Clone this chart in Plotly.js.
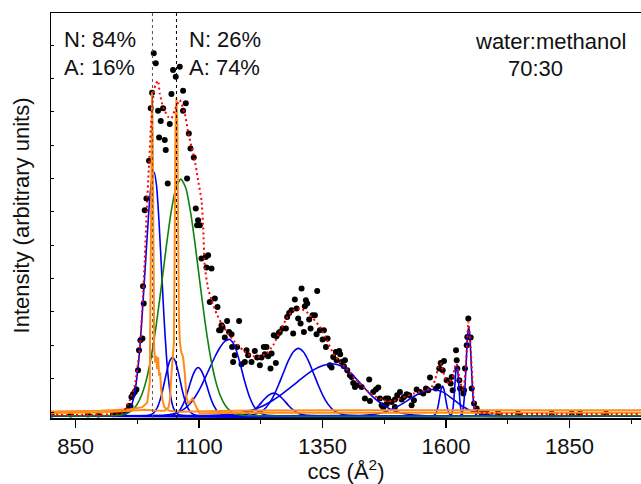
<!DOCTYPE html>
<html><head><meta charset="utf-8">
<script src="https://cdn.plot.ly/plotly-3.0.1.min.js"></script>
<style>html,body{margin:0;padding:0;background:#fff}#chart{width:641px;height:484px}</style>
</head><body><div id="chart"></div>
<script>
// measured data points (ccs, intensity)
const dotsX=[801,840,875,896,925.6,935.8,945.9,954.8,958.0,960.9,962.9,966.1,969.6,973.0,976.3,978.3,981.1,985.2,986.4,987.8,989.9,993.3,998.6,1002.0,1004.7,1008.1,1012.2,1016.8,1018.9,1022.3,1027.0,1030.4,1032.4,1036.4,1040.5,1043.9,1047.2,1052.7,1060.8,1067.5,1067.5,1073.0,1075.6,1079.1,1082.5,1089.2,1093.2,1097.9,1095.9,1101.4,1104.8,1113.5,1118.2,1114.9,1125.1,1121.6,1131.8,1137.2,1140.5,1145.3,1147.4,1156.7,1143.3,1152.0,1160.7,1165.6,1181.0,1166.8,1177.0,1172.3,1168.9,1185.9,1192.6,1196.0,1199.3,1206.1,1212.8,1217.5,1223.0,1226.4,1231.1,1236.5,1233.1,1239.8,1246.7,1244.6,1255.4,1251.3,1256.8,1263.5,1269.0,1275.7,1261.5,1290.5,1278.3,1282.4,1287.2,1293.9,1297.4,1300.6,1305.5,1307.5,1316.2,1318.9,1314.2,1312.2,1322.9,1325.7,1329.8,1334.4,1339.1,1337.9,1344.6,1352.7,1350.0,1356.8,1360.2,1376.9,1383.6,1385.7,1371.6,1378.4,1364.9,1368.3,1388.6,1395.3,1393.2,1400.0,1405.4,1408.9,1412.1,1415.6,1429.1,1419.0,1444.5,1435.8,1446.0,1452.6,1462.8,1458.1,1466.2,1469.7,1472.9,1479.8,1478.4,1483.0,1489.9,1496.6,1501.3,1506.8,1496.6,1510.2,1514.9,1520.3,1525.6,1530.4,1535.1,1540.6,1547.3,1554.0,1559.5,1564.1,1567.6,1579.7,1584.4,1586.4,1589.3,1596.0,1593.3,1601.4,1609.5,1611.6,1613.6,1620.3,1621.7,1622.9,1627.0,1628.4,1635.1,1636.5,1638.5,1642.0,1643.2,1645.2,1650.1,1652.1,1656.8,1662.2,1672.4,1682.5,1705.4,1746.0,1814.3,1854.8,1871.6,1924.3];
const dotsY=[0.36,0.36,0.36,0.36,0.45,0.66,1.05,1.65,2.94,2.85,5.64,6.45,7.14,7.86,13.65,19.65,22.65,23.16,38.85,33.66,61.65,65.16,76.44,92.16,96.84,108.66,105.66,91.44,83.46,88.35,92.16,82.65,79.65,69.66,87.45,96.45,103.65,101.64,104.64,97.44,91.44,93.66,71.16,84.66,80.16,77.46,62.16,58.65,57.15,57.15,47.16,47.64,48.15,44.46,44.16,34.14,35.16,32.64,25.65,27.15,26.64,28.44,25.65,23.46,25.14,24.45,28.44,20.64,20.64,18.15,16.14,15.45,16.14,19.65,18.15,16.14,19.44,17.46,15.15,17.46,20.64,20.64,18.45,17.85,18.66,14.16,15.84,24.15,23.85,25.14,26.16,26.16,24.84,24.66,29.64,30.84,31.65,34.86,32.16,29.16,27.66,38.16,34.65,33.66,32.85,25.14,28.86,26.16,30.15,30.15,37.44,24.45,25.65,25.65,22.86,20.64,23.16,19.14,19.44,18.45,17.64,16.65,15.15,14.46,16.14,16.65,14.85,13.65,12.15,11.64,9.84,8.64,8.64,9.15,10.86,5.16,4.44,7.14,8.46,7.86,5.16,3.15,2.46,3.45,5.16,5.16,4.14,4.86,6.15,7.14,2.64,4.86,5.64,6.45,6.15,3.15,4.65,7.86,7.14,6.66,8.16,7.65,11.46,8.16,8.85,14.16,15.84,16.44,13.65,10.65,9.66,11.64,7.65,19.65,16.65,14.16,10.65,8.16,6.66,7.65,14.16,21.15,23.64,29.16,23.46,8.16,3.66,2.16,0.84,0.84,0.84,0.66,0.66,0.66,0.66,0.66];

// fitted sum (red dotted)
const sumX=[800,900,945.3,959.5,969.6,979.7,985.8,989.9,993.9,998.0,1002.0,1006.1,1011.2,1016.8,1020.3,1026.9,1037.0,1043.9,1050.6,1060.8,1070.9,1077.6,1084.5,1091.2,1097.9,1104.8,1108.1,1111.5,1118.2,1125.1,1135.2,1145.4,1158.7,1172.3,1189.1,1202.7,1219.5,1236.5,1249.9,1263.5,1277.1,1290.5,1304.1,1317.6,1331.0,1344.6,1358.2,1371.6,1385.2,1398.7,1412.1,1425.7,1439.3,1452.6,1466.2,1479.8,1493.2,1506.8,1520.3,1533.7,1547.3,1560.9,1571.0,1577.7,1584.4,1589.3,1594.6,1600.0,1606.7,1613.6,1618.2,1621.7,1624.9,1629.8,1635.1,1639.9,1643.2,1645.2,1648.6,1652.1,1655.3,1658.8,1665.5,1709,1800,1995];
const sumY=[0.3,0.3,1.05,4.65,9.15,19.65,34.65,46.65,61.65,73.65,85.65,94.65,99.15,100.44,96.66,92.64,89.64,89.16,91.65,94.65,90.66,85.14,80.64,76.65,70.65,64.65,56.64,44.64,38.16,34.65,30.66,27.66,24.66,22.14,19.65,18.15,17.64,18.66,21.15,25.14,29.16,31.65,32.16,31.14,29.16,26.64,23.0,18.66,16.14,14.16,11.64,9.66,7.65,6.15,5.16,4.44,4.44,5.16,5.85,6.66,7.14,7.65,8.64,10.65,14.46,15.66,13.14,10.65,9.66,11.64,14.64,15.66,13.14,9.66,7.65,14.64,22.65,28.14,23.64,14.64,6.66,2.16,1.14,0.6,0.5,0.5];

// fitted gaussian components (blue)
const b1X=[800,940,948.7,958.7,968.7,978.7,988.7,998.7,1003.7,1008.7,1013.7,1018.7,1023.7,1028.7,1033.7,1038.7,1043.7,1048.7,1058.7,1080,1995];
const b1Y=[0,0.05,0.28,1.5,6.2,18.2,39.4,62.6,70.2,73.1,69.1,58.4,44.3,30.0,18.2,9.9,4.8,2.1,0.3,0,0];
const b2X=[800,996,1006,1016,1021,1026,1031,1036,1041,1046,1051,1056,1061,1066,1071,1076,1086,1096,1995];
const b2Y=[0,0.1,0.63,2.7,4.8,7.6,11.0,14.2,16.6,17.5,16.6,14.2,11.0,7.6,4.8,2.7,0.63,0.1,0];
const b3X=[800,1038,1048,1058,1068,1073,1078,1083,1088,1093,1098,1103,1108,1113,1118,1123,1128,1138,1148,1158,1995];
const b3Y=[0,0.06,0.3,1.2,3.6,5.5,7.8,10.3,12.4,13.9,14.5,13.9,12.4,10.3,7.8,5.5,3.6,1.2,0.3,0.06,0];
const b4X=[800,1012,1032,1047,1062,1072,1082,1092,1102,1112,1122,1132,1142,1152,1162,1172,1182,1192,1202,1212,1222,1232,1247,1995];
const b4Y=[0,0.04,0.19,0.53,1.35,2.3,3.7,5.7,8.2,11.3,14.5,17.7,20.4,22.3,22.9,21.0,16.2,10.5,5.7,2.6,1.0,0.33,0.04,0];
const b5X=[800,1176,1191,1201,1211,1221,1231,1241,1251,1261,1271,1281,1291,1301,1311,1326,1995];
const b5Y=[0,0.05,0.3,0.78,1.7,3.1,4.8,6.2,6.8,6.2,4.8,3.1,1.7,0.78,0.3,0.05,0];
const b6X=[800,1191,1206,1221,1231,1241,1251,1261,1271,1281,1291,1301,1311,1321,1331,1341,1351,1361,1371,1381,1396,1411,1995];
const b6Y=[0,0.05,0.24,0.89,1.8,3.5,6.0,9.3,13.0,16.6,19.2,20.2,19.2,16.6,13.0,9.3,6.0,3.5,1.8,0.89,0.24,0.05,0];
const b7X=[800,1111,1141,1171,1191,1211,1231,1251,1271,1291,1311,1331,1351,1371,1391,1411,1431,1451,1471,1491,1511,1531,1551,1571,1995];
const b7Y=[0,0.06,0.2,0.58,1.1,1.9,3.1,4.8,6.9,9.2,11.6,13.7,15.1,15.6,14.7,12.2,9.0,5.8,3.4,1.7,0.77,0.3,0.11,0.03,0];
const b8X=[800,1414,1434,1454,1474,1494,1514,1534,1554,1574,1594,1614,1634,1654,1674,1694,1714,1995];
const b8Y=[0,0.05,0.16,0.44,1.07,2.2,3.8,5.7,7.3,7.9,7.1,5.0,2.8,1.3,0.47,0.14,0.03,0];
const b9X=[800,1572,1575,1578,1581,1584,1587,1590,1593,1596,1599,1602,1605,1608,1611,1614,1995];
const b9Y=[0,0.02,0.1,0.39,1.2,2.9,5.4,7.9,8.9,7.9,5.4,2.9,1.2,0.39,0.1,0.02,0];
const b10X=[800,1608,1610,1612,1614,1616,1618,1620,1622,1624,1626,1628,1630,1632,1634,1636,1995];
const b10Y=[0,0.03,0.17,0.67,2.1,4.9,9.2,13.4,15.2,13.4,9.2,4.9,2.1,0.67,0.17,0.03,0];
const b11X=[800,1629,1632,1634,1636,1638,1640,1642,1644,1646,1648,1650,1652,1654,1656,1658,1660,1663,1995];
const b11Y=[0,0.08,0.53,1.5,3.6,7.4,12.9,19.2,24.5,26.5,24.5,19.2,12.9,7.4,3.6,1.5,0.53,0.08,0];

// green component
const gX=[800,933,948,963,973,983,993,1003,1013,1023,1033,1043,1053,1063,1073,1083,1093,1103,1113,1123,1133,1143,1153,1163,1178,1193,1995];
const gY=[0,0.1,0.43,1.5,3.1,6.0,10.7,17.7,27.0,38.3,50.1,60.8,68.3,70.95,68.3,60.8,50.1,38.3,27.0,17.7,10.7,6.0,3.1,1.5,0.43,0.1,0];

// simulated spectra (orange)
const o1X=[800,900,960,985,995,1000,1002,1003.5,1004.7,1006,1007.5,1009,1011,1013,1015,1017,1019,1021,1023,1026,1030,1040,1060,1100,1150,1200,1400,1700,1995];
const o1Y=[1.3,1.5,2.0,2.6,4.0,10,45,85,97,85,45,20,16,18,14,17.5,12,13,8,4.5,2.5,1.5,1.2,1.3,1.5,1.6,1.65,1.65,1.65];
const o2X=[800,900,960,990,1010,1030,1038,1041,1044,1047,1049,1050.5,1052,1054,1056,1057.5,1059,1061,1064,1067.5,1071,1074.3,1078,1081,1086.4,1094.5,1101,1120,1200,1400,1995];
const o2Y=[0.85,1.0,1.5,1.8,1.6,1.5,2.5,5,12.7,17.6,22,50,85,95.2,88,55,30,22,19,17.6,12.7,5.6,3.5,4.1,5.2,2.6,0.7,0.8,0.9,0.9,0.9];

// conformer reference positions and labels
const refLines=[1005.5,1054.1];
const refColors=['#555555','#000000'];
const labelsLeft=['N: 84%','A: 16%'];
const labelsRight=['N: 26%','A: 74%'];
const solventLabel=['water:methanol','70:30'];
const xTickVals=[850,1100,1350,1600,1850];

const BLUE='#0000ee', GREEN='#108010', ORANGE='#ff8c1a';
const comps=[[b1X,b1Y],[b2X,b2Y],[b3X,b3Y],[b4X,b4Y],[b5X,b5Y],[b6X,b6Y],[b7X,b7Y],[b8X,b8Y],[b9X,b9Y],[b10X,b10Y],[b11X,b11Y]];
const traces=[];
traces.push({x:dotsX,y:dotsY,mode:'markers',type:'scatter',marker:{color:'#000',size:6},hoverinfo:'skip'});
comps.forEach(c=>traces.push({x:c[0],y:c[1],mode:'lines',type:'scatter',line:{color:BLUE,width:1.6,shape:'spline',smoothing:0.6},hoverinfo:'skip'}));
traces.push({x:gX,y:gY,mode:'lines',type:'scatter',line:{color:GREEN,width:1.6,shape:'spline',smoothing:0.6},hoverinfo:'skip'});
traces.push({x:o1X,y:o1Y,mode:'lines',type:'scatter',line:{color:ORANGE,width:2},hoverinfo:'skip'});
traces.push({x:o2X,y:o2Y,mode:'lines',type:'scatter',line:{color:ORANGE,width:2},hoverinfo:'skip'});
traces.push({x:sumX,y:sumY,mode:'lines',type:'scatter',line:{color:'#ff0000',width:2,dash:'2px,3px',shape:'spline',smoothing:0.5},hoverinfo:'skip'});

const FONT='Liberation Sans, Arial, Helvetica, sans-serif';
function ann(text,xp,yp){return {text:text,xref:'paper',yref:'paper',x:xp,y:yp,xanchor:'left',yanchor:'middle',showarrow:false,font:{family:FONT,size:22,color:'#111'}};}
const layout={
  width:641,height:484,
  margin:{l:51,r:0,t:13,b:66},
  paper_bgcolor:'#fff',plot_bgcolor:'#fff',showlegend:false,
  font:{family:FONT,size:22,color:'#111'},
  xaxis:{range:[800,1995],tickvals:xTickVals,ticktext:xTickVals.map(String),ticks:'outside',ticklen:8,tickwidth:1.5,tickcolor:'#000',
    minor:{tick0:850,dtick:125,ticks:'outside',ticklen:4,tickwidth:1.2,tickcolor:'#000',showgrid:false},
    showgrid:false,zeroline:false,showline:true,linewidth:1.5,linecolor:'#000',mirror:true,
    tickfont:{family:FONT,size:22,color:'#111'},
    title:{text:'ccs (Å<sup>2</sup>)',font:{family:FONT,size:22,color:'#111'},standoff:6}},
  xaxis2:{overlaying:'x',side:'top',anchor:'y',range:[800,1995],tick0:850,dtick:125,ticks:'inside',ticklen:3,tickcolor:'#000',
    showticklabels:false,showgrid:false,zeroline:false,showline:false},
  yaxis:{range:[-0.66,120.75],tick0:1.14,dtick:10,ticks:'inside',ticklen:3,tickcolor:'#000',showticklabels:false,
    showgrid:false,zeroline:false,showline:true,linewidth:1.5,linecolor:'#000',
    title:{text:'Intensity (arbitrary units)',font:{family:FONT,size:22,color:'#111'},standoff:14}},
  shapes:refLines.map((v,i)=>({type:'line',xref:'x',yref:'paper',x0:v,x1:v,y0:0,y1:1,line:{color:refColors[i],width:1,dash:'dot'}})),
  annotations:[
    ann(labelsLeft[0],0.019,0.935),ann(labelsLeft[1],0.019,0.866),
    ann(labelsRight[0],0.231,0.935),ann(labelsRight[1],0.231,0.866),
    ann(solventLabel[0],0.715,0.93),ann(solventLabel[1],0.771,0.862)
  ]
};
Plotly.newPlot('chart',traces,layout,{staticPlot:true,displayModeBar:false});
</script></body></html>
